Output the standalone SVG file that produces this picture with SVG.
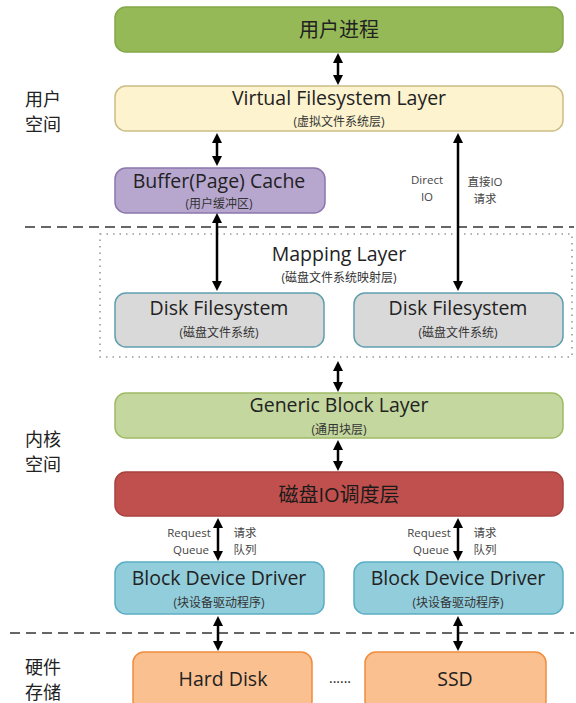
<svg xmlns="http://www.w3.org/2000/svg" width="576" height="703" viewBox="0 0 576 703">
<style>
text{font-family:"Open Sans","Noto Sans","Noto Sans CJK SC",sans-serif;fill:#222;text-anchor:middle;dominant-baseline:central}
.t{font-size:19.5px}
.s{font-size:12px;fill:#333}
.side{font-size:18px;text-anchor:start}
.lbl{font-size:11.5px;fill:#444}
.box{stroke-width:1.5}
.arr{stroke:#000;stroke-width:2.5;fill:none;marker-start:url(#ah);marker-end:url(#ah)}
.dash{stroke:#666;stroke-width:2;stroke-dasharray:10 6;fill:none}
</style>
<defs>
<marker id="ah" viewBox="0 0 10 10" markerWidth="10" markerHeight="10" markerUnits="userSpaceOnUse" refX="6" refY="5" orient="auto-start-reverse">
<path d="M0,0 L10,5 L0,10 z" fill="#000"/>
</marker>
</defs>
<rect width="576" height="703" fill="#fff"/>

<g id="separators">
<line class="dash" x1="25" y1="227" x2="574" y2="227"/>
<line class="dash" x1="10" y1="633" x2="574" y2="633"/>
<rect id="mapping-frame" x="100" y="234" width="472" height="123" fill="none" stroke="#999" stroke-width="1.6" stroke-dasharray="1.5 5"/>
</g>

<g id="side-labels">
<text class="side" x="25" y="99">用户</text>
<text class="side" x="25" y="124">空间</text>
<text class="side" x="25" y="439">内核</text>
<text class="side" x="25" y="464">空间</text>
<text class="side" x="25" y="667">硬件</text>
<text class="side" x="25" y="692">存储</text>
</g>

<g id="user-process">
<rect class="box" x="115" y="7" width="448" height="45" rx="11" fill="#96b957" stroke="#84a74a"/>
<text x="339" y="29" style="font-size:20px">用户进程</text>
</g>

<g id="vfs">
<rect class="box" x="115" y="86" width="448" height="45" rx="11" fill="#fdf3cf" stroke="#cbbd85"/>
<text class="t" x="339" y="97">Virtual Filesystem Layer</text>
<text class="s" x="339" y="121">(虚拟文件系统层)</text>
</g>

<g id="buffer-cache">
<rect class="box" x="115" y="168" width="210" height="45" rx="11" fill="#b7a7cf" stroke="#8c77ad"/>
<text class="t" x="219" y="180">Buffer(Page) Cache</text>
<text class="s" x="219" y="203">(用户缓冲区)</text>
</g>

<g id="mapping-layer">
<text class="t" x="339" y="253">Mapping Layer</text>
<text class="s" x="339" y="277">(磁盘文件系统映射层)</text>
</g>

<g id="disk-fs-1">
<rect class="box" x="115" y="293" width="209" height="54" rx="11" fill="#d9d9d9" stroke="#5f9fae"/>
<text class="t" x="219" y="307">Disk Filesystem</text>
<text class="s" x="219" y="332">(磁盘文件系统)</text>
</g>

<g id="disk-fs-2">
<rect class="box" x="354" y="293" width="209" height="54" rx="11" fill="#d9d9d9" stroke="#5f9fae"/>
<text class="t" x="458" y="307">Disk Filesystem</text>
<text class="s" x="458" y="332">(磁盘文件系统)</text>
</g>

<g id="generic-block">
<rect class="box" x="115" y="393" width="448" height="45" rx="11" fill="#c4d79e" stroke="#9fbb66"/>
<text class="t" x="339" y="404">Generic Block Layer</text>
<text class="s" x="339" y="429">(通用块层)</text>
</g>

<g id="io-scheduler">
<rect class="box" x="115" y="472" width="448" height="44" rx="11" fill="#c0504d" stroke="#a9423f"/>
<text x="339" y="494" style="font-size:20px;fill:#1a1a1a">磁盘IO调度层</text>
</g>

<g id="bdd-1">
<rect class="box" x="115" y="562" width="209" height="52" rx="11" fill="#92cddc" stroke="#5aaec4"/>
<text class="t" x="219" y="577">Block Device Driver</text>
<text class="s" x="219" y="602">(块设备驱动程序)</text>
</g>

<g id="bdd-2">
<rect class="box" x="354" y="562" width="209" height="52" rx="11" fill="#92cddc" stroke="#5aaec4"/>
<text class="t" x="458" y="577">Block Device Driver</text>
<text class="s" x="458" y="602">(块设备驱动程序)</text>
</g>

<g id="hard-disk">
<rect class="box" x="133" y="652" width="179" height="60" rx="11" fill="#fac090" stroke="#f08c3c"/>
<text class="t" x="223" y="678">Hard Disk</text>
</g>

<g id="ellipsis">
<text x="340" y="677" style="font-size:14px">......</text>
</g>

<g id="ssd">
<rect class="box" x="365" y="652" width="181" height="60" rx="11" fill="#fac090" stroke="#f08c3c"/>
<text class="t" x="455" y="678">SSD</text>
</g>

<g id="connectors">
<line class="arr" x1="338" y1="57" x2="338" y2="81"/>
<line class="arr" x1="217" y1="137" x2="217" y2="162"/>
<line class="arr" x1="458" y1="137" x2="458" y2="287"/>
<line class="arr" x1="217" y1="217" x2="217" y2="287"/>
<line class="arr" x1="338" y1="365" x2="338" y2="388"/>
<line class="arr" x1="338" y1="444" x2="338" y2="467"/>
<line class="arr" x1="218" y1="522" x2="218" y2="557"/>
<line class="arr" x1="458" y1="522" x2="458" y2="557"/>
<line class="arr" x1="218" y1="620" x2="218" y2="647"/>
<line class="arr" x1="458" y1="620" x2="458" y2="647"/>
</g>

<g id="connector-labels">
<text class="lbl" x="427" y="179">Direct</text>
<text class="lbl" x="427" y="196">IO</text>
<text class="lbl" x="485" y="181">直接IO</text>
<text class="lbl" x="485" y="198">请求</text>
<text class="lbl" x="189" y="532">Request</text>
<text class="lbl" x="191" y="549">Queue</text>
<text class="lbl" x="245" y="532">请求</text>
<text class="lbl" x="245" y="549">队列</text>
<text class="lbl" x="429" y="532">Request</text>
<text class="lbl" x="431" y="549">Queue</text>
<text class="lbl" x="485" y="532">请求</text>
<text class="lbl" x="485" y="549">队列</text>
</g>
</svg>
